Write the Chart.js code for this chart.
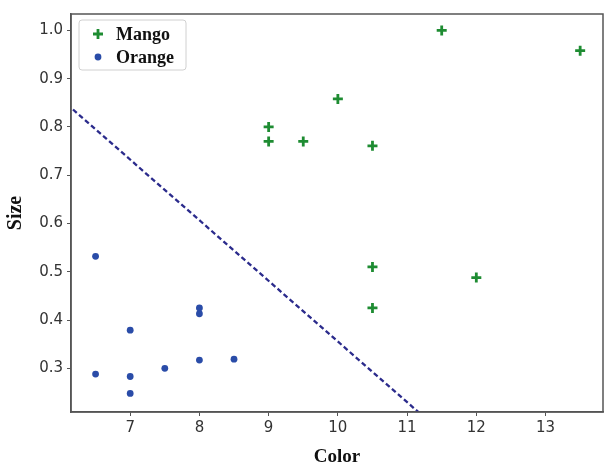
<!DOCTYPE html>
<html>
<head>
<meta charset="utf-8">
<script src="https://cdn.jsdelivr.net/npm/chart.js@4.4.0/dist/chart.umd.min.js"></script>
<style>
  html, body { margin: 0; padding: 0; background: #fff; overflow: hidden; }
  #wrap { width: 606px; height: 463px; }
  canvas { display: block; }
</style>
</head>
<body>
<div id="wrap"><canvas id="chart" width="606" height="463"></canvas></div>
<script>
// Mango vs Orange scatter with a separating line

const mangoColor = [9, 9, 9.5, 10, 10.5, 11.5, 13.5, 10.5, 10.5, 12];
const mangoSize = [0.80, 0.77, 0.77, 0.858, 0.761, 1.0, 0.958, 0.51, 0.425, 0.488];

const orangeColor = [6.5, 6.5, 7, 7, 7, 7.5, 8, 8, 8, 8.5];
const orangeSize = [0.532, 0.288, 0.379, 0.283, 0.248, 0.30, 0.425, 0.413, 0.317, 0.319];

// decision boundary endpoints (clipped to the plot area)
const lineColor = [6, 11.5];
const lineSize = [0.858, 0.167];

const xTicks = [7, 8, 9, 10, 11, 12, 13];
const yTicks = [0.3, 0.4, 0.5, 0.6, 0.7, 0.8, 0.9, 1.0];

function toPoints(xs, ys) {
    return xs.map((x, i) => ({ x: x, y: ys[i] }));
}

const serifBold = 'bold 18px "Liberation Serif", "Times New Roman", serif';

// legend drawn inside the plot, top-left, plus the full frame
const framePlugin = {
    id: 'frameAndLegend',
    afterDraw(chart) {
        const ctx = chart.ctx;
        const a = chart.chartArea;
        ctx.save();
        ctx.strokeStyle = '#555';
        ctx.lineWidth = 1.5;
        ctx.strokeRect(a.left, a.top, a.right - a.left, a.bottom - a.top);

        // legend box
        const bx = a.left + 8, by = a.top + 6, bw = 107, bh = 50;
        ctx.fillStyle = 'rgba(255,255,255,0.85)';
        ctx.strokeStyle = '#d0d0d0';
        ctx.lineWidth = 1;
        ctx.beginPath();
        ctx.roundRect(bx, by, bw, bh, 3);
        ctx.fill();
        ctx.stroke();

        ctx.font = serifBold;
        ctx.textBaseline = 'middle';
        ctx.textAlign = 'left';
        const items = chart.data.datasets.filter(d => d.label);
        items.forEach((d, i) => {
            const cy = by + 14 + i * 23;
            const cx = bx + 19;
            ctx.fillStyle = d.backgroundColor;
            ctx.strokeStyle = d.borderColor;
            if (d.pointStyle === 'cross') {
                ctx.lineWidth = 2.8;
                ctx.beginPath();
                ctx.moveTo(cx - 5, cy); ctx.lineTo(cx + 5, cy);
                ctx.moveTo(cx, cy - 5); ctx.lineTo(cx, cy + 5);
                ctx.stroke();
            } else {
                ctx.beginPath();
                ctx.arc(cx, cy, 3.4, 0, Math.PI * 2);
                ctx.fill();
            }
            ctx.fillStyle = '#111';
            ctx.fillText(d.label, bx + 37, cy + 1);
        });
        ctx.restore();
    }
};

new Chart(document.getElementById('chart'), {
    type: 'scatter',
    data: {
        datasets: [
            {
                label: 'Mango',
                data: toPoints(mangoColor, mangoSize),
                pointStyle: 'cross',
                pointRadius: 5,
                pointBorderWidth: 2.8,
                borderColor: '#1e8c32',
                backgroundColor: '#1e8c32'
            },
            {
                label: 'Orange',
                data: toPoints(orangeColor, orangeSize),
                pointStyle: 'circle',
                pointRadius: 3.4,
                pointBorderWidth: 0,
                borderColor: '#2a4ca8',
                backgroundColor: '#2a4ca8'
            },
            {
                label: '',
                type: 'line',
                data: toPoints(lineColor, lineSize),
                borderColor: '#2b2b8c',
                borderWidth: 2.3,
                borderDash: [5, 3],
                pointRadius: 0,
                fill: false
            }
        ]
    },
    options: {
        responsive: false,
        animation: false,
        layout: {
            autoPadding: false,
            padding: { top: 14, right: 3, left: 0, bottom: 0 }
        },
        plugins: {
            legend: { display: false },
            tooltip: { enabled: false }
        },
        scales: {
            x: {
                type: 'linear',
                min: 6.145,
                max: 13.83,
                afterBuildTicks: function(scale) {
                    scale.ticks = xTicks.map(v => ({ value: v }));
                },
                afterFit: function(scale) {
                    scale.height = 51;
                    scale.paddingLeft = 0;
                    scale.paddingRight = 0;
                },
                grid: {
                    drawOnChartArea: false,
                    drawTicks: true,
                    tickLength: 4,
                    color: '#555'
                },
                border: { display: true, color: '#555', width: 1.5 },
                ticks: {
                    color: '#333',
                    padding: 3,
                    font: { family: '"DejaVu Sans", sans-serif', size: 15 }
                },
                title: {
                    display: true,
                    text: 'Color',
                    color: '#111',
                    padding: { top: 0, bottom: -5 },
                    font: { family: '"Liberation Serif", "Times New Roman", serif', size: 19, weight: 'bold' }
                }
            },
            y: {
                type: 'linear',
                min: 0.2095,
                max: 1.034,
                afterBuildTicks: function(scale) {
                    scale.ticks = yTicks.map(v => ({ value: v }));
                },
                afterFit: function(scale) {
                    scale.width = 71;
                    scale.paddingTop = 0;
                    scale.paddingBottom = 0;
                },
                grid: {
                    drawOnChartArea: false,
                    drawTicks: true,
                    tickLength: 4,
                    color: '#555'
                },
                border: { display: true, color: '#555', width: 1.5 },
                ticks: {
                    color: '#333',
                    padding: 4,
                    font: { family: '"DejaVu Sans", sans-serif', size: 15 },
                    callback: function(value) { return value.toFixed(1); }
                },
                title: {
                    display: true,
                    text: 'Size',
                    color: '#111',
                    padding: { top: 4, bottom: 0 },
                    font: { family: '"Liberation Serif", "Times New Roman", serif', size: 20, weight: 'bold' }
                }
            }
        }
    },
    plugins: [framePlugin]
});
</script>
</body>
</html>
